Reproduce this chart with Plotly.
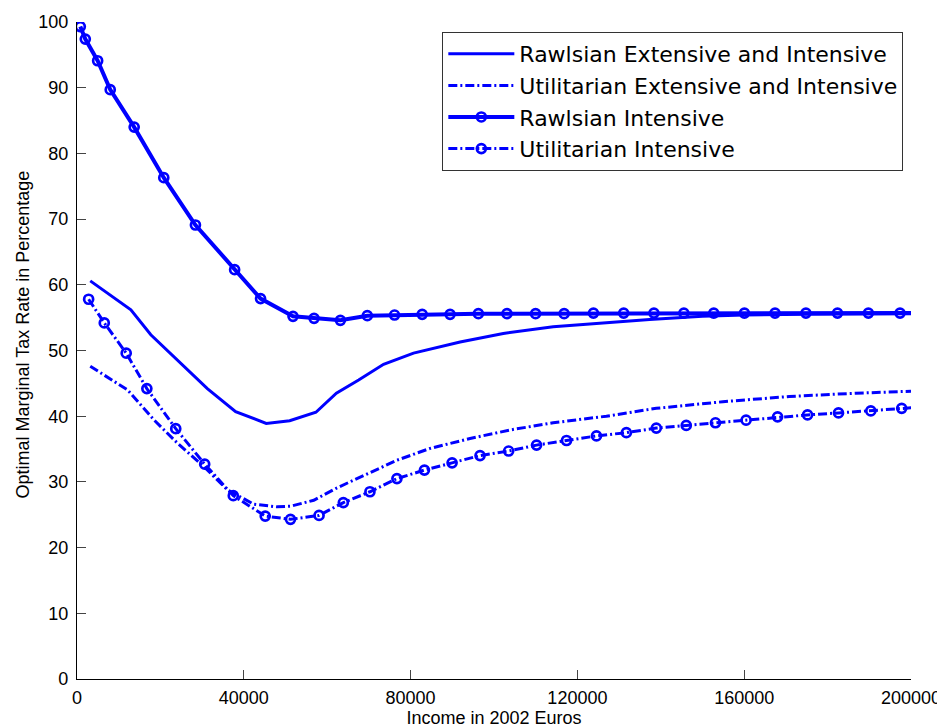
import plotly.graph_objects as go

# ---- data ----
rawls_ext_x = [3180, 12920, 17700, 24880, 31260, 38040, 45380, 51000, 57300, 62200,
               67540, 73520, 80700, 91870, 102230, 114190, 127750, 137320, 150000,
               160000, 175000, 200000]
rawls_ext_y = [60.6, 56.2, 52.4, 48.1, 44.2, 40.7, 38.9, 39.3, 40.6, 43.5,
               45.5, 47.9, 49.6, 51.3, 52.6, 53.6, 54.3, 54.7, 55.2,
               55.4, 55.5, 55.6]

util_ext_x = [3180, 12120, 18500, 24090, 30460, 36050, 42420, 48010, 51200, 56770,
              62370, 68750, 76720, 84690, 94260, 103830, 114190, 126950, 138920,
              154870, 170810, 186760, 200000]
util_ext_y = [47.6, 44.0, 39.4, 35.9, 32.3, 28.8, 26.6, 26.2, 26.3, 27.2,
              29.1, 31.0, 33.3, 35.1, 36.6, 37.9, 39.0, 40.0, 41.2,
              42.2, 43.0, 43.5, 43.8]

rawls_int_x = [790, 1990, 4950, 7970, 13710, 20810, 28400, 37800, 44020, 51800,
               56850, 63160, 69620, 76150, 82780, 89470, 96250, 103110, 109970,
               116820, 123850, 131100, 138350, 145530, 152700, 160050, 167390,
               174800, 182370, 189780, 197370, 205000]
rawls_int_y = [99.3, 97.4, 94.1, 89.7, 84.0, 76.3, 69.1, 62.3, 57.9, 55.2,
               54.9, 54.6, 55.3, 55.4, 55.5, 55.5, 55.6, 55.6, 55.6,
               55.6, 55.7, 55.7, 55.7, 55.7, 55.7, 55.7, 55.7,
               55.7, 55.7, 55.7, 55.7, 55.7]

util_int_x = [2790, 6540, 11800, 16750, 23680, 30620, 37480, 45140, 51200, 58050,
              63870, 70250, 76720, 83320, 89950, 96650, 103510, 110210, 117390,
              124570, 131740, 138920, 146100, 153110, 160450, 168010, 175190,
              182610, 190360, 197770, 205000]
util_int_y = [57.8, 54.2, 49.6, 44.2, 38.1, 32.7, 27.9, 24.8, 24.3, 24.9,
              26.85, 28.5, 30.5, 31.8, 32.9, 34.0, 34.7, 35.6, 36.3,
              37.0, 37.5, 38.2, 38.6, 39.0, 39.4, 39.9, 40.2,
              40.5, 40.8, 41.2, 41.5]

series_names = ["Rawlsian Extensive and Intensive", "Utilitarian Extensive and Intensive",
                "Rawlsian Intensive", "Utilitarian Intensive"]

x_title = "Income in 2002 Euros"
y_title = "Optimal Marginal Tax Rate in Percentage"
x_ticks = [0, 40000, 80000, 120000, 160000, 200000]
y_ticks = [0, 10, 20, 30, 40, 50, 60, 70, 80, 90, 100]

# ---- figure ----
BLUE = "#0000ff"
FONT = "Liberation Sans, Arial, Helvetica, sans-serif"
LEG_FONT = "DejaVu Sans, Liberation Sans, Arial, sans-serif"
DASHDOT = "9px,3px,2px,3px"
MARKER = dict(symbol="circle-open", size=9, color=BLUE, line=dict(color=BLUE, width=2.7))

fig = go.Figure()
fig.add_trace(go.Scatter(x=rawls_ext_x, y=rawls_ext_y, mode="lines", name=series_names[0],
                         line=dict(color=BLUE, width=3)))
fig.add_trace(go.Scatter(x=util_ext_x, y=util_ext_y, mode="lines", name=series_names[1],
                         line=dict(color=BLUE, width=3, dash=DASHDOT)))
fig.add_trace(go.Scatter(x=rawls_int_x, y=rawls_int_y, mode="lines+markers", name=series_names[2],
                         line=dict(color=BLUE, width=4), marker=MARKER))
fig.add_trace(go.Scatter(x=util_int_x, y=util_int_y, mode="lines+markers", name=series_names[3],
                         line=dict(color=BLUE, width=3, dash=DASHDOT), marker=MARKER))

axis_common = dict(showgrid=False, zeroline=False, showline=True, linecolor="black",
                   linewidth=1.2, ticks="inside", ticklen=9, tickwidth=1, tickcolor="#444",
                   tickfont=dict(family=FONT, size=18, color="black"), mirror=False)

fig.update_xaxes(range=[0, 200000], tickvals=x_ticks, ticktext=[str(v) for v in x_ticks],
                 title=dict(text=x_title, font=dict(family=FONT, size=18, color="black"),
                            standoff=2),
                 ticklabelstandoff=2,
                 **axis_common)
fig.update_yaxes(range=[0, 100], tickvals=y_ticks, ticklabelstandoff=4, **axis_common)

fig.add_annotation(text=y_title, xref="paper", yref="paper", x=-0.0652, y=0.5238,
                   xanchor="center", yanchor="middle", textangle=-90, showarrow=False,
                   font=dict(family=FONT, size=18, color="black"))

# page body adds an 8px offset; figure sized to fit the window
fig.update_layout(
    width=937, height=720,
    margin=dict(l=69, r=34, t=14, b=49, autoexpand=False),
    paper_bgcolor="white", plot_bgcolor="white",
    font=dict(family=FONT, color="black"),
    showlegend=True,
    legend=dict(x=0.9908, y=0.9848, xanchor="right", yanchor="top",
                bgcolor="white", bordercolor="#333", borderwidth=1,
                font=dict(family=LEG_FONT, size=22, color="black"),
                itemwidth=66, tracegroupgap=0),
)

fig.write_html("out.html")
